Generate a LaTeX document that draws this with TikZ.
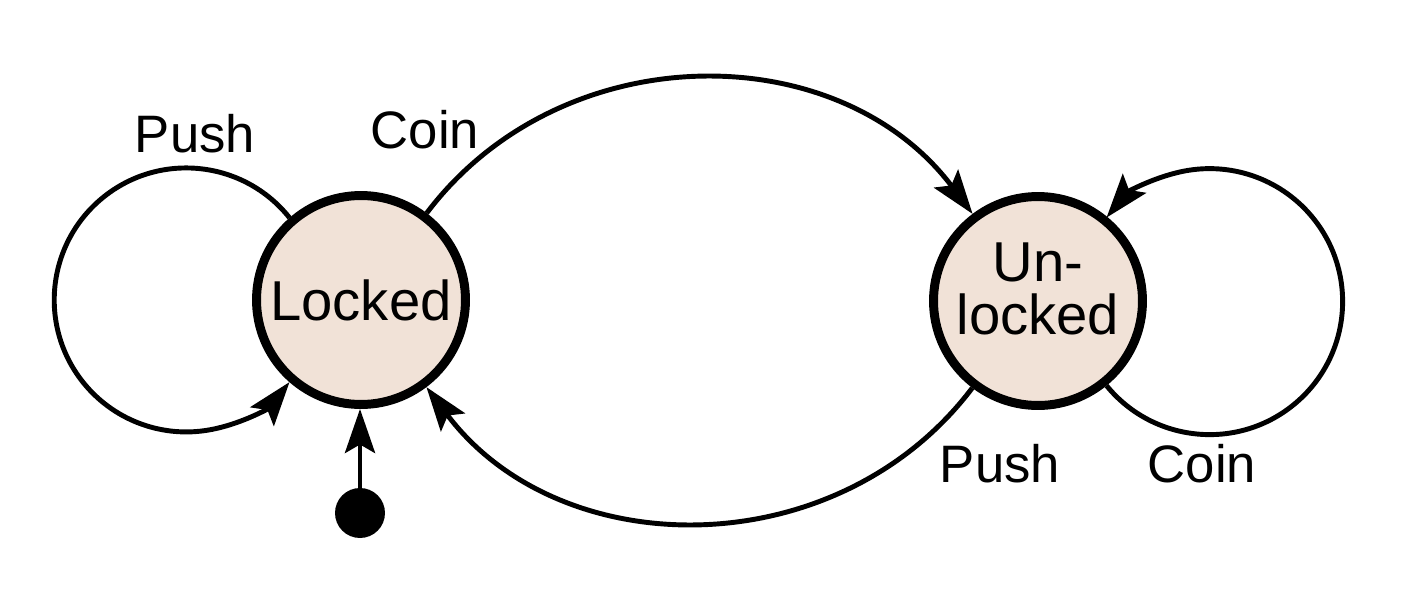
\documentclass[tikz,border=0pt]{standalone}
\usepackage{fontspec}
\setmainfont{Liberation Sans}
\usetikzlibrary{arrows.meta}
\definecolor{statefill}{RGB}{241,226,215}

\begin{document}
\begin{tikzpicture}[x=0.02cm, y=0.02cm,
    font=\fontsize{30}{30}\selectfont,
    state/.style={circle, draw, line width=5.1pt, fill=statefill, minimum size=4.18cm, inner sep=0pt, align=center, font=\fontsize{32}{30}\selectfont},
    trans/.style={line width=2.8pt, -{Stealth[length=0.88cm, width=0.6cm, inset=0.17cm]}},
    lbl/.style={anchor=base, inner sep=0pt}]
    \useasboundingbox (0,0) rectangle (1411,600);

    \node[state] (lck) at (361,300) {Locked};
    \node[state, text depth=14pt] (unl) at (1038,299) {Un-\\locked};
    \node[circle, fill, minimum size=1cm, inner sep=0pt] (init) at (360,87) {};

    \draw[trans] (lck.131) arc[start angle=38.5, end angle=321.5, radius=132];
    \draw[trans] (unl.-51) arc[start angle=-140.8, end angle=140.8, radius=133];
    \draw[trans] (lck) to[bend left=53, looseness=1.05] (unl);
    \draw[trans] (unl) to[bend left=53, looseness=1.05] (lck);
    \draw[trans] (init) -- (init |- lck.south);

    \node[lbl] (push1) at (195,448) {Push};
    \node[lbl] (coin1) at (425,452) {Coin};
    \node[lbl] (push2) at (1000,118) {Push};
    \node[lbl] (coin2) at (1202,118) {Coin};
\end{tikzpicture}
\end{document}
